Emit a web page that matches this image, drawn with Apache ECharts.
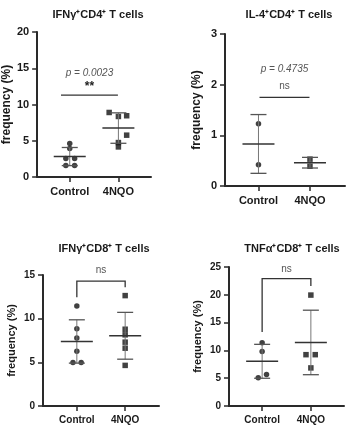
<!DOCTYPE html>
<html>
<head>
<meta charset="utf-8">
<script src="https://cdn.jsdelivr.net/npm/echarts@6/dist/echarts.min.js"></script>
<style>
  html, body { margin: 0; padding: 0; background: #fff; }
  #chart { width: 364px; height: 433px; }
</style>
</head>
<body>
<div id="chart"></div>
<script>
// groups on every panel
const groups = ['Control', '4NQO'];

// IFNγ+CD4+ T cells
const cd4IfnCtrl = [4.63, 3.93, 2.55, 2.55, 1.58, 1.58];
const cd4IfnCtrlJit = [0, 0, -0.08, 0.1, -0.08, 0.1];
const cd4IfnNqo = [8.9, 8.35, 8.45, 5.77, 4.75, 4.15];
const cd4IfnNqoJit = [-0.19, 0, 0.17, 0.17, 0, 0];
const cd4IfnMean = [2.82, 6.75];
const cd4IfnSd = [1.25, 2.1];

// IL-4+CD4+ T cells
const cd4Il4Ctrl = [1.23, 0.42];
const cd4Il4CtrlJit = [0, 0];
const cd4Il4Nqo = [0.53, 0.39];
const cd4Il4NqoJit = [0, 0];
const cd4Il4Mean = [0.83, 0.46];
const cd4Il4Sd = [0.58, 0.105];

// IFNγ+CD8+ T cells
const cd8IfnCtrl = [11.46, 8.84, 7.8, 6.28, 4.99, 4.99];
const cd8IfnCtrlJit = [0, 0, 0, 0, -0.08, 0.09];
const cd8IfnNqo = [12.64, 8.79, 8.15, 7.31, 6.62, 4.65];
const cd8IfnNqoJit = [0, 0, 0, 0, 0, 0];
const cd8IfnMean = [7.39, 8.04];
const cd8IfnSd = [2.48, 2.68];

// TNFα+CD8+ T cells
const cd8TnfCtrl = [11.38, 9.82, 5.66, 5.07];
const cd8TnfCtrlJit = [0, 0, 0.09, -0.08];
const cd8TnfNqo = [19.95, 9.23, 9.23, 6.85];
const cd8TnfNqoJit = [0, -0.1, 0.09, 0];
const cd8TnfMean = [8.04, 11.43];
const cd8TnfSd = [3.05, 5.8];

// y axes
const yMax = [20, 3, 15, 25];
const yStep = [5, 1, 5, 5];

// significance marks: [x start, x end, y, left leg end, right leg end]
const sigBars = [
  [-0.18, 0.99, 11.3, 11.3, 11.3],
  [0.02, 0.99, 1.75, 1.75, 1.75],
  [0, 1, 14.3, 12.45, 13.6],
  [0, 1, 22.9, 13.3, 21.6]
];
const pLabels = ['p = 0.0023', 'p = 0.4735', '', ''];
const pLabelY = [14.36, 2.3, 0, 0];
const starLabels = ['**', 'ns', 'ns', 'ns'];
const starY = [12.5, 1.97, 15.5, 24.6];

const titles = [
  'IFNγ⁺CD4⁺ T cells',
  'IL-4⁺CD4⁺ T cells',
  'IFNγ⁺CD8⁺ T cells',
  'TNFα⁺CD8⁺ T cells'
];

const panels = [
  { ctrl: cd4IfnCtrl, cj: cd4IfnCtrlJit, nqo: cd4IfnNqo, nj: cd4IfnNqoJit, mean: cd4IfnMean, sd: cd4IfnSd },
  { ctrl: cd4Il4Ctrl, cj: cd4Il4CtrlJit, nqo: cd4Il4Nqo, nj: cd4Il4NqoJit, mean: cd4Il4Mean, sd: cd4Il4Sd },
  { ctrl: cd8IfnCtrl, cj: cd8IfnCtrlJit, nqo: cd8IfnNqo, nj: cd8IfnNqoJit, mean: cd8IfnMean, sd: cd8IfnSd },
  { ctrl: cd8TnfCtrl, cj: cd8TnfCtrlJit, nqo: cd8TnfNqo, nj: cd8TnfNqoJit, mean: cd8TnfMean, sd: cd8TnfSd }
];

// pixel boxes of the four plots
const boxes = [
  { left: 35, top: 32, width: 116, height: 145, xmin: -0.67, xmax: 1.67, font: 11, nameGap: 23, titleX: 93, titleY: 11 },
  { left: 225, top: 34, width: 120, height: 152, xmin: -0.65, xmax: 1.68, font: 11, nameGap: 22, titleX: 284, titleY: 11 },
  { left: 43, top: 275, width: 116, height: 131, xmin: -0.7, xmax: 1.7, font: 10, nameGap: 26, titleX: 99, titleY: 245 },
  { left: 229, top: 267, width: 115, height: 139, xmin: -0.68, xmax: 1.68, font: 10, nameGap: 26, titleX: 287, titleY: 245 }
];

const FONT = 'Arial, "Liberation Sans", Helvetica, sans-serif';
const INK = '#1a1a1a';

const grid = [], xAxis = [], yAxis = [], series = [], title = [];

boxes.forEach((b, i) => {
  grid.push({ left: b.left, top: b.top, width: b.width, height: b.height });
  title.push({
    text: titles[i], left: b.titleX, top: b.titleY - 7, textAlign: 'center',
    textStyle: { fontFamily: FONT, fontSize: 11, fontWeight: 'bold', color: INK }
  });
  xAxis.push({
    type: 'value', gridIndex: i, min: b.xmin, max: b.xmax,
    splitLine: { show: false },
    axisLine: { show: true, onZero: false, lineStyle: { color: '#2a2a2a', width: 2 } },
    axisTick: { show: true, inside: false, customValues: [0, 1], length: 5, lineStyle: { color: '#2a2a2a', width: 1.5 } },
    axisLabel: {
      customValues: [0, 1], margin: 9,
      formatter: v => groups[Math.round(v)],
      fontFamily: FONT, fontSize: b.font, fontWeight: 'bold', color: INK
    }
  });
  yAxis.push({
    type: 'value', gridIndex: i, min: 0, max: yMax[i], interval: yStep[i],
    name: 'frequency (%)', nameLocation: 'middle', nameGap: b.nameGap,
    nameTextStyle: { fontFamily: FONT, fontSize: b.font + 1, fontWeight: 'bold', color: INK },
    splitLine: { show: false },
    axisLine: { show: true, onZero: false, lineStyle: { color: '#2a2a2a', width: 2 } },
    axisTick: { show: true, inside: false, length: 5, lineStyle: { color: '#2a2a2a', width: 1.5 } },
    axisLabel: { margin: 8, fontFamily: FONT, fontSize: b.font, fontWeight: 'bold', color: INK }
  });

  const p = panels[i];
  series.push({
    type: 'scatter', xAxisIndex: i, yAxisIndex: i, symbol: 'circle', symbolSize: 5.5,
    itemStyle: { color: '#111' }, silent: true,
    data: p.ctrl.map((v, k) => [0 + p.cj[k], v])
  });
  series.push({
    type: 'scatter', xAxisIndex: i, yAxisIndex: i, symbol: 'rect', symbolSize: 5.5,
    itemStyle: { color: '#111' }, silent: true,
    data: p.nqo.map((v, k) => [1 + p.nj[k], v])
  });

  // mean line with SD error bars
  series.push({
    type: 'custom', xAxisIndex: i, yAxisIndex: i, silent: true, z: 3,
    data: p.mean.map((m, k) => [k, m, p.sd[k]]),
    renderItem: (params, api) => {
      const x = api.value(0), m = api.value(1), s = api.value(2);
      const c = api.coord([x, m]);
      const up = api.coord([x, m + s])[1];
      const lo = api.coord([x, m - s])[1];
      const line = (x1, y1, x2, y2, color, w) => ({
        type: 'line', shape: { x1, y1, x2, y2 }, style: { stroke: color, lineWidth: w }
      });
      return {
        type: 'group',
        children: [
          line(c[0], up, c[0], lo, '#777', 1),
          line(c[0] - 8, up, c[0] + 8, up, '#555', 1.3),
          line(c[0] - 8, lo, c[0] + 8, lo, '#555', 1.3),
          line(c[0] - 16, c[1], c[0] + 16, c[1], '#333', 1.6)
        ]
      };
    }
  });

  // significance line / bracket with labels
  series.push({
    type: 'custom', xAxisIndex: i, yAxisIndex: i, silent: true, clip: false,
    data: [sigBars[i]],
    renderItem: (params, api) => {
      const a = api.coord([api.value(0), api.value(2)]);
      const b2 = api.coord([api.value(1), api.value(2)]);
      const yl = api.coord([0, api.value(3)])[1];
      const yr = api.coord([0, api.value(4)])[1];
      const mid = (a[0] + b2[0]) / 2;
      const kids = [
        { type: 'polyline', shape: { points: [[a[0], yl], [a[0], a[1]], [b2[0], b2[1]], [b2[0], yr]] },
          style: { stroke: '#333', lineWidth: 1.3, fill: null } },
        { type: 'text', x: mid, y: api.coord([0, starY[i]])[1],
          style: { text: starLabels[i], align: 'center', verticalAlign: 'middle',
            fontFamily: FONT, fontSize: starLabels[i] === '**' ? 12 : 10,
            fontWeight: starLabels[i] === '**' ? 'bold' : 'normal',
            fill: starLabels[i] === '**' ? '#222' : '#555' } }
      ];
      if (pLabels[i]) {
        kids.push({ type: 'text', x: mid, y: api.coord([0, pLabelY[i]])[1],
          style: { text: pLabels[i], align: 'center', verticalAlign: 'middle',
            fontFamily: FONT, fontSize: 10, fontStyle: 'italic', fill: '#555' } });
      }
      return { type: 'group', children: kids };
    }
  });
});

const chart = echarts.init(document.getElementById('chart'));
chart.setOption({ animation: false, title, grid, xAxis, yAxis, series });
</script>
</body>
</html>
